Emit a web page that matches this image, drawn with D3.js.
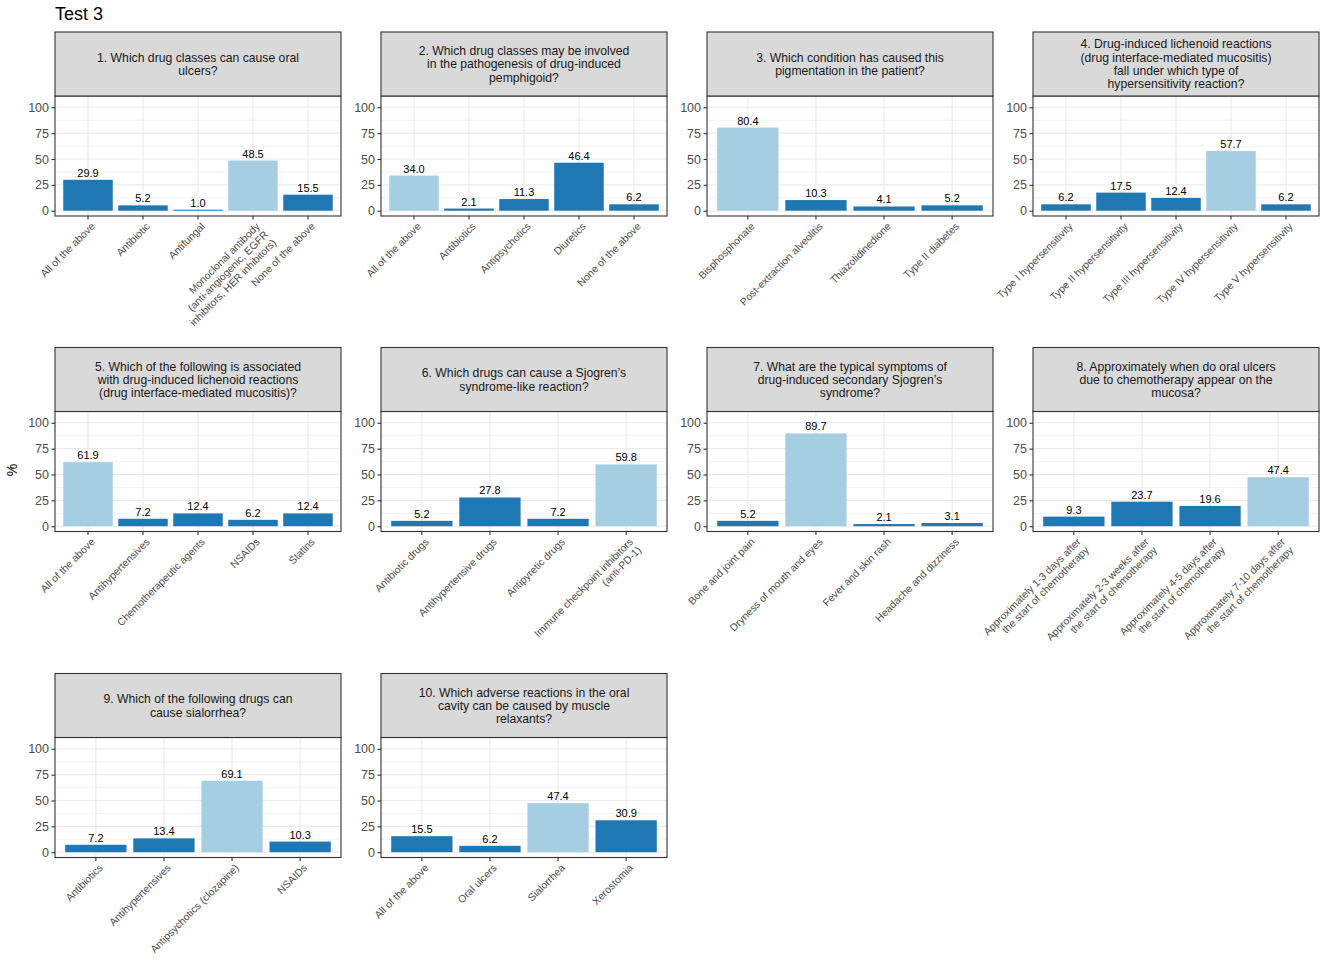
<!DOCTYPE html>
<html>
<head>
<meta charset="utf-8">
<script src="https://cdn.jsdelivr.net/npm/d3@7/dist/d3.min.js"></script>
<style>
  body { margin: 0; background: #fff; }
  text { font-family: "Liberation Sans", Arial, Helvetica, sans-serif; }
</style>
</head>
<body>
<script>
// question titles (strip text), already wrapped as in the figure
var questions = [
    "1. Which drug classes can cause oral\nulcers?",
    "2. Which drug classes may be involved\nin the pathogenesis of drug-induced\npemphigoid?",
    "3. Which condition has caused this\npigmentation in the patient?",
    "4. Drug-induced lichenoid reactions\n(drug interface-mediated mucositis)\nfall under which type of\nhypersensitivity reaction?",
    "5. Which of the following is associated\nwith drug-induced lichenoid reactions\n(drug interface-mediated mucositis)?",
    "6. Which drugs can cause a Sjogren\u2019s\nsyndrome-like reaction?",
    "7. What are the typical symptoms of\ndrug-induced secondary Sjogren\u2019s\nsyndrome?",
    "8. Approximately when do oral ulcers\ndue to chemotherapy appear on the\nmucosa?",
    "9. Which of the following drugs can\ncause sialorrhea?",
    "10. Which adverse reactions in the oral\ncavity can be caused by muscle\nrelaxants?"
];

// answer options per question
var categories = [
    ["All of the above", "Antibiotic", "Antifungal", "Monoclonal antibody\n(anti-angiogenic, EGFR\ninhibitors, HER inhibitors)", "None of the above"],
    ["All of the above", "Antibiotics", "Antipsychotics", "Diuretics", "None of the above"],
    ["Bisphosphonate", "Post-extraction alveolitis", "Thiazolidinedione", "Type II diabetes"],
    ["Type I hypersensitivity", "Type II hypersensitivity", "Type III hypersensitivity", "Type IV hypersensitivity", "Type V hypersensitivity"],
    ["All of the above", "Antihypertensives", "Chemotherapeutic agents", "NSAIDs", "Statins"],
    ["Antibiotic drugs", "Antihypertensive drugs", "Antipyretic drugs", "Immune checkpoint inhibitors\n(anti-PD-1)"],
    ["Bone and joint pain", "Dryness of mouth and eyes", "Fever and skin rash", "Headache and dizziness"],
    ["Approximately 1-3 days after\nthe start of chemotherapy", "Approximately 2-3 weeks after\nthe start of chemotherapy", "Approximately 4-5 days after\nthe start of chemotherapy", "Approximately 7-10 days after\nthe start of chemotherapy"],
    ["Antibiotics", "Antihypertensives", "Antipsychotics (clozapine)", "NSAIDs"],
    ["All of the above", "Oral ulcers", "Sialorrhea", "Xerostomia"]
];

// percentage of answers per option
var values = [
    [29.9, 5.2, 1.0, 48.5, 15.5],
    [34.0, 2.1, 11.3, 46.4, 6.2],
    [80.4, 10.3, 4.1, 5.2],
    [6.2, 17.5, 12.4, 57.7, 6.2],
    [61.9, 7.2, 12.4, 6.2, 12.4],
    [5.2, 27.8, 7.2, 59.8],
    [5.2, 89.7, 2.1, 3.1],
    [9.3, 23.7, 19.6, 47.4],
    [7.2, 13.4, 69.1, 10.3],
    [15.5, 6.2, 47.4, 30.9]
];

// index of the correct (highlighted) answer
var correct = [3, 0, 0, 3, 0, 3, 1, 3, 2, 2];

var yTicks = [0, 25, 50, 75, 100];
var yMinor = [12.5, 37.5, 62.5, 87.5];

// layout
var w = 1325, h = 971;
var panelW = 286, panelH = 120, stripH = 64;
var colLeft = [55, 381, 707, 1033];
var rowTop = [32, 347.5, 673.5];
var darkBlue = "#1f78b4", lightBlue = "#a6cee3";

var svg = d3.select("body").append("svg")
    .attr("width", w)
    .attr("height", h);

//chart title
svg.append("text")
    .attr("x", 55)
    .attr("y", 19.5)
    .style("font-size", "18px")
    .style("fill", "#000")
    .text("Test 3");

//shared y axis title
svg.append("text")
    .attr("transform", "translate(17,470) rotate(-90)")
    .attr("text-anchor", "middle")
    .style("font-size", "14px")
    .style("fill", "#000")
    .text("%");

questions.forEach(function(q, i){
    var col = i % 4, row = Math.floor(i / 4);
    var left = colLeft[col], top = rowTop[row];
    var pTop = top + stripH, pBottom = pTop + panelH;
    var cats = categories[i], vals = values[i];

    var data = cats.map(function(c, k){
        return { cat: c, value: vals[k], correct: k === correct[i] };
    });

    var x = d3.scaleBand()
        .domain(cats)
        .range([left, left + panelW])
        .paddingInner(0.1)
        .paddingOuter(0.15);

    var y = d3.scaleLinear()
        .domain([-5.1, 110.9])
        .range([pBottom, pTop]);

    var g = svg.append("g").attr("class", "panel");

    //panel background
    g.append("rect")
        .attr("x", left).attr("y", pTop)
        .attr("width", panelW).attr("height", panelH)
        .style("fill", "#fff");

    //minor grid
    g.selectAll(".minor")
        .data(yMinor)
        .enter()
        .append("line")
        .attr("x1", left).attr("x2", left + panelW)
        .attr("y1", function(d){ return y(d); })
        .attr("y2", function(d){ return y(d); })
        .style("stroke", "#ebebeb")
        .style("stroke-width", 0.6);

    //major grid
    g.selectAll(".major")
        .data(yTicks)
        .enter()
        .append("line")
        .attr("x1", left).attr("x2", left + panelW)
        .attr("y1", function(d){ return y(d); })
        .attr("y2", function(d){ return y(d); })
        .style("stroke", "#ebebeb")
        .style("stroke-width", 1.1);

    g.selectAll(".vgrid")
        .data(cats)
        .enter()
        .append("line")
        .attr("x1", function(d){ return x(d) + x.bandwidth() / 2; })
        .attr("x2", function(d){ return x(d) + x.bandwidth() / 2; })
        .attr("y1", pTop).attr("y2", pBottom)
        .style("stroke", "#ebebeb")
        .style("stroke-width", 1.1);

    //bars
    g.selectAll(".bar")
        .data(data)
        .enter()
        .append("rect")
        .attr("class", "bar")
        .attr("x", function(d){ return x(d.cat); })
        .attr("width", x.bandwidth())
        .attr("y", function(d){ return y(d.value); })
        .attr("height", function(d){ return y(0) - y(d.value); })
        .style("fill", function(d){ return d.correct ? lightBlue : darkBlue; });

    //value labels
    g.selectAll(".val")
        .data(data)
        .enter()
        .append("text")
        .attr("x", function(d){ return x(d.cat) + x.bandwidth() / 2; })
        .attr("y", function(d){ return y(d.value) - 3; })
        .attr("text-anchor", "middle")
        .style("font-size", "11px")
        .style("fill", "#000")
        .text(function(d){ return d.value.toFixed(1); });

    //panel border
    g.append("rect")
        .attr("x", left).attr("y", pTop)
        .attr("width", panelW).attr("height", panelH)
        .style("fill", "none")
        .style("stroke", "#333")
        .style("stroke-width", 1.1);

    //strip
    g.append("rect")
        .attr("x", left).attr("y", top)
        .attr("width", panelW).attr("height", stripH)
        .style("fill", "#d9d9d9")
        .style("stroke", "#333")
        .style("stroke-width", 1.1);

    var lines = q.split("\n");
    var lh = 13.3, fs = 12.2;
    var strip = g.append("text")
        .attr("text-anchor", "middle")
        .style("font-size", fs + "px")
        .style("fill", "#1a1a1a");
    strip.selectAll("tspan")
        .data(lines)
        .enter()
        .append("tspan")
        .attr("x", left + panelW / 2)
        .attr("y", function(d, j){
            return top + stripH / 2 + (j - (lines.length - 1) / 2) * lh + fs * 0.36;
        })
        .text(function(d){ return d; });

    //y axis
    var yAxis = d3.axisLeft(y)
        .tickValues(yTicks)
        .tickSize(3.5)
        .tickPadding(2.5);
    var ya = g.append("g")
        .attr("transform", "translate(" + left + ",0)")
        .call(yAxis);
    ya.select(".domain").remove();
    ya.selectAll(".tick line").style("stroke", "#333").style("stroke-width", 1.1);
    ya.selectAll(".tick text")
        .style("font-size", "12.5px")
        .style("fill", "#4d4d4d")
        .style("font-family", "Liberation Sans, Arial, sans-serif");

    //x axis (ticks only, labels drawn rotated below)
    var xAxis = d3.axisBottom(x)
        .tickSize(3.5)
        .tickFormat("");
    var xa = g.append("g")
        .attr("transform", "translate(0," + pBottom + ")")
        .call(xAxis);
    xa.select(".domain").remove();
    xa.selectAll(".tick line").style("stroke", "#333").style("stroke-width", 1.1);

    var labels = g.selectAll(".xlab")
        .data(cats)
        .enter()
        .append("text")
        .attr("class", "xlab")
        .attr("transform", function(d){
            var cx = x(d) + x.bandwidth() / 2;
            return "translate(" + (cx + 2) + "," + (pBottom + 5.5) + ") rotate(-45)";
        })
        .attr("text-anchor", "end")
        .style("font-size", "10.4px")
        .style("fill", "#4d4d4d");

    labels.selectAll("tspan")
        .data(function(d){ return d.split("\n"); })
        .enter()
        .append("tspan")
        .attr("x", 0)
        .attr("dy", function(d, j){ return j === 0 ? "0.75em" : "1.12em"; })
        .text(function(d){ return d; });
});
</script>
</body>
</html>
